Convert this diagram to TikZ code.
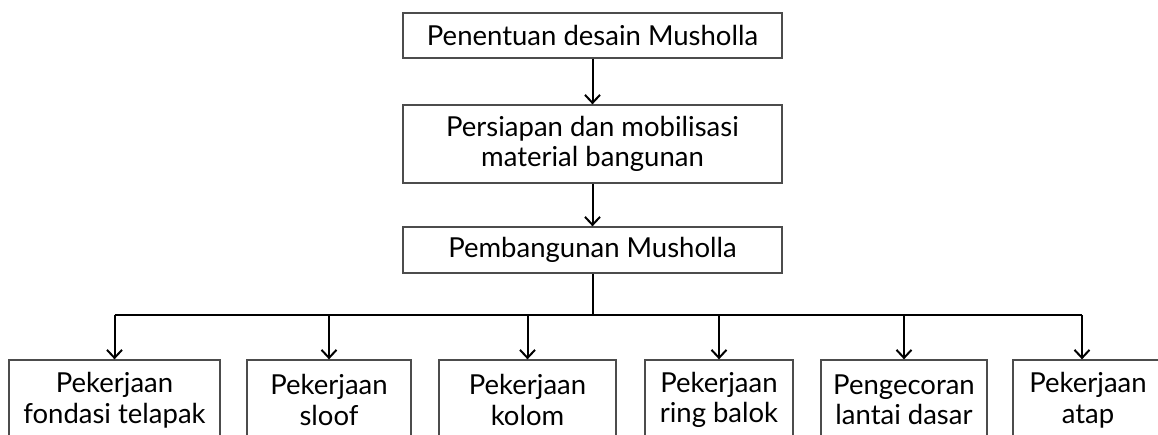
\documentclass[tikz,border=0pt]{standalone}
\usepackage{fontspec}
\setmainfont{Lato}
\usetikzlibrary{arrows.meta}
\begin{document}
\begin{tikzpicture}[x=1pt,y=-1pt,
  box/.style={draw=black!70, line width=1.3pt, fill=white, align=center,
    inner sep=0pt, font=\fontsize{27.5}{30.5}\selectfont, text=black},
  link/.style={line width=2pt},
  conn/.style={line width=2pt, -{Straight Barb[length=8pt,width=15pt,line width=2pt]}}]
\clip (0,0) rectangle (1158,435);
\node[box, minimum width=379pt, minimum height=45pt] (m1) at (592.5,35.5) {Penentuan desain Musholla};
\node[box, minimum width=379pt, minimum height=78pt] (m2) at (592.5,144) {Persiapan dan mobilisasi\\material bangunan};
\node[box, minimum width=379pt, minimum height=46pt] (m3) at (592.5,250) {Pembangunan Musholla};
\node[box, minimum width=211pt, minimum height=80pt] (b1) at (114.5,400) {Pekerjaan\\fondasi telapak};
\node[box, minimum width=164pt, minimum height=80pt] (b2) at (329,400) {Pekerjaan\\sloof};
\node[box, minimum width=177pt, minimum height=80pt] (b3) at (527.5,400) {Pekerjaan\\kolom};
\node[box, minimum width=148pt, minimum height=80pt] (b4) at (719,400) {Pekerjaan\\ring balok};
\node[box, minimum width=166pt, minimum height=80pt] (b5) at (904,400) {Pengecoran\\lantai dasar};
\node[box, minimum width=150pt, minimum height=80pt] (b6) at (1088,400) {Pekerjaan\\atap};
\coordinate (bus) at (592.5,315);
\coordinate (a6) at (1082,315);
\draw[conn] (m1) -- (m2);
\draw[conn] (m2) -- (m3);
\draw[link] (m3.south) -- (bus);
\draw[link] (bus -| b1.north) -- (a6);
\foreach \b in {b1,b2,b3,b4,b5}{
  \draw[conn] (bus -| \b.north) -- (\b.north);
}
\draw[conn] (a6) -- (a6 |- b6.north);
\end{tikzpicture}
\end{document}
